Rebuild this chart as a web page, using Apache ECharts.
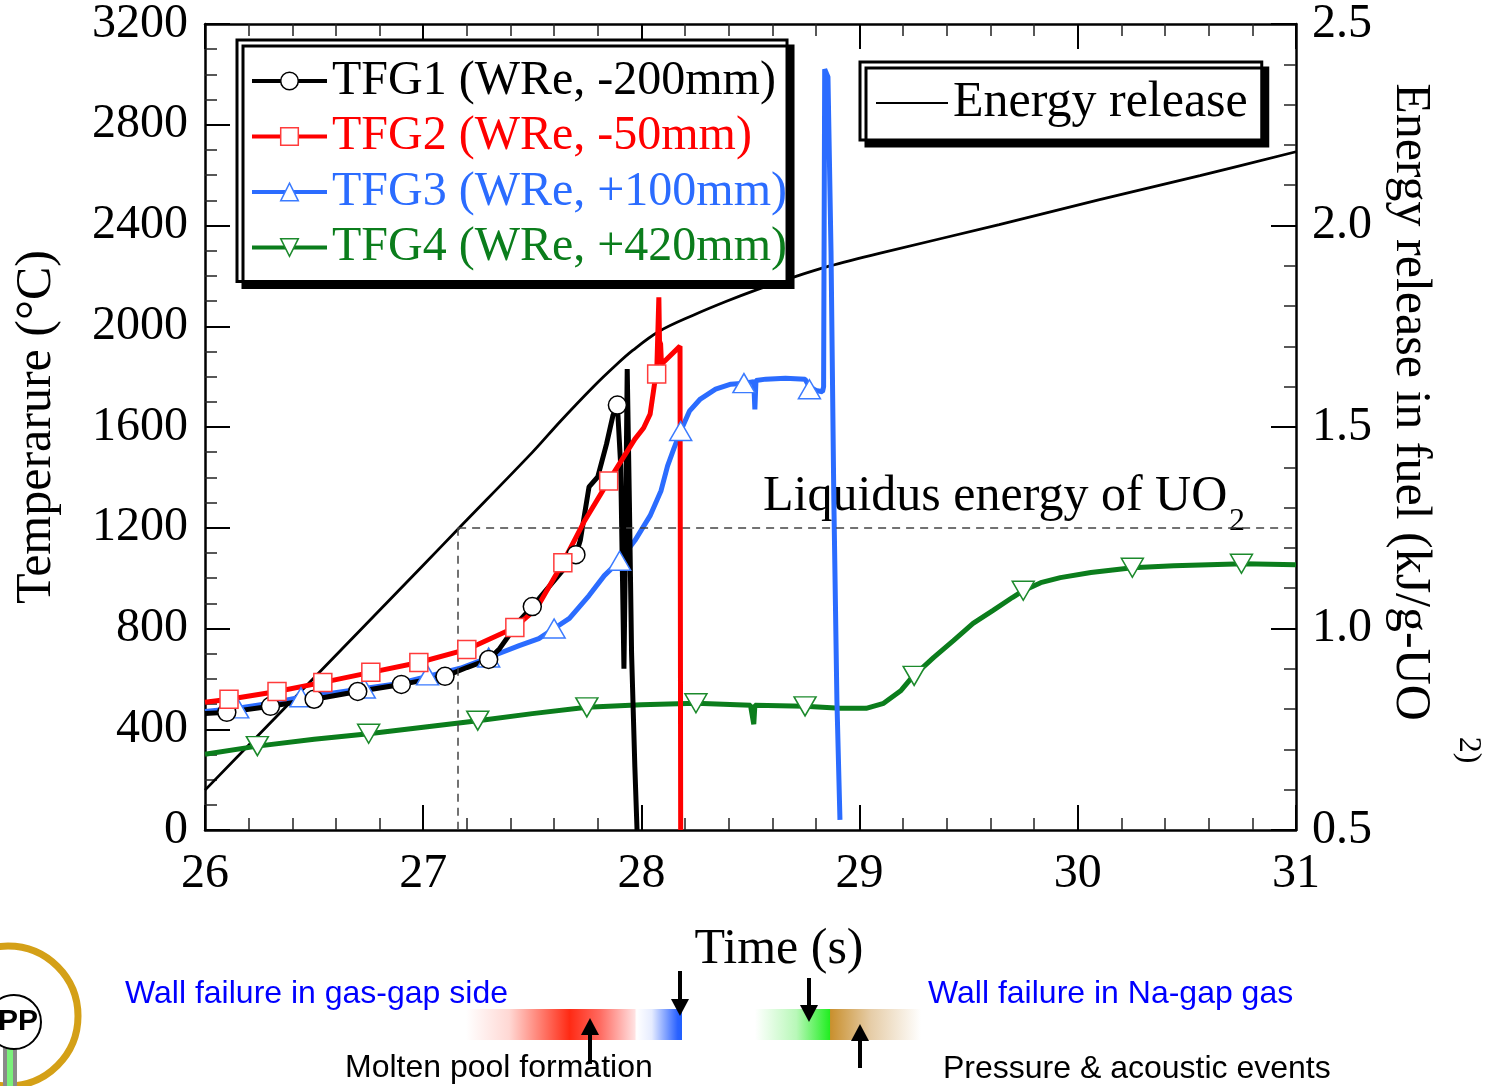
<!DOCTYPE html>
<html><head><meta charset="utf-8">
<script src="https://cdn.jsdelivr.net/npm/echarts@6/dist/echarts.min.js"></script>
<style>html,body{margin:0;padding:0;background:#fff}#c{width:1510px;height:1086px}</style>
</head><body><div id="c"></div>
<script>
// ---------- tick labels ----------
const timeTicks = [26, 27, 28, 29, 30, 31];
const tempTicks = [0, 400, 800, 1200, 1600, 2000, 2400, 2800, 3200];
const energyTicks = [0.5, 1.0, 1.5, 2.0, 2.5];

// ---------- series names ----------
const seriesNames = ['TFG1 (WRe, -200mm)', 'TFG2 (WRe, -50mm)', 'TFG3 (WRe, +100mm)', 'TFG4 (WRe, +420mm)'];
const energyName = 'Energy release';

// ---------- data: [time (s), temperature (°C)] ----------
const tfg1 = [[26.00,463],[26.10,467],[26.30,491],[26.50,519],[26.70,550],[26.90,578],[27.10,610],[27.20,645],[27.30,677],
  [27.35,720],[27.44,830],[27.50,887],[27.60,990],[27.70,1093],[27.72,1150],[27.76,1362],[27.80,1402],[27.84,1532],
  [27.87,1647],[27.89,1687],[27.905,1450],[27.92,640],[27.925,980],[27.935,1830],[27.945,1300],[27.955,700],[27.97,250],[27.98,0]];
const tfg1Markers = [[26.1,467],[26.3,491],[26.5,519],[26.7,550],[26.9,578],[27.1,610],[27.3,677],[27.5,887],[27.7,1093],[27.89,1687]];

const tfg2 = [[26.00,507],[26.11,519],[26.33,550],[26.54,586],[26.76,626],[26.98,665],[27.20,717],[27.42,804],[27.52,880],
  [27.64,1061],[27.74,1228],[27.85,1386],[27.97,1552],[28.01,1596],[28.04,1651],[28.06,1770],[28.07,1810],[28.08,2115],
  [28.083,1940],[28.088,1930],[28.092,1849],[28.177,1921],[28.18,0]];
const tfg2Markers = [[26.11,519],[26.33,550],[26.54,586],[26.76,626],[26.98,665],[27.20,717],[27.42,804],[27.64,1061],[27.85,1386],[28.07,1810]];

const tfg3 = [[26.00,471],[26.15,483],[26.30,503],[26.44,527],[26.58,543],[26.73,562],[26.89,582],[27.02,610],[27.17,642],
  [27.30,685],[27.44,732],[27.53,760],[27.60,800],[27.67,840],[27.76,931],[27.83,1010],[27.90,1069],[27.97,1149],[28.04,1248],
  [28.09,1347],[28.12,1446],[28.15,1517],[28.18,1584],[28.22,1663],[28.27,1711],[28.34,1750],[28.41,1770],[28.47,1774],
  [28.515,1780],[28.52,1670],[28.525,1785],[28.57,1790],[28.66,1794],[28.75,1790],[28.77,1760],[28.80,1745],[28.83,1740],
  [28.835,1760],[28.84,3020],[28.855,2990],[28.869,2297],[28.882,1307],[28.896,515],[28.91,40]];
const tfg3Markers = [[26.15,483],[26.44,527],[26.73,562],[27.02,614],[27.30,685],[27.60,800],[27.90,1069],[28.18,1584],[28.47,1774],[28.77,1750]];

const tfg4 = [[26.00,301],[26.24,333],[26.50,360],[26.75,382],[27.00,408],[27.25,434],[27.50,462],[27.75,487],[28.00,497],
  [28.25,503],[28.50,495],[28.515,420],[28.52,495],[28.75,491],[28.91,483],[29.03,483],[29.11,503],[29.19,554],[29.24,606],
  [29.34,685],[29.43,752],[29.52,820],[29.61,871],[29.70,923],[29.75,950],[29.83,982],[29.92,1002],[30.06,1022],[30.25,1041],
  [30.44,1049],[30.76,1057],[31.00,1053]];
const tfg4Markers = [[26.24,333],[26.75,382],[27.25,434],[27.75,487],[28.25,503],[28.75,491],[29.25,612],[29.75,950],[30.25,1041],[30.75,1057]];

// ---------- data: [time (s), energy (kJ/g-UO2)] ----------
const energyRelease = [[26.00,0.599],[26.50,0.878],[27.00,1.157],[27.16,1.247],[27.50,1.437],[27.63,1.515],[27.78,1.600],
  [27.88,1.652],[27.96,1.690],[28.08,1.737],[28.24,1.778],[28.39,1.812],[28.53,1.841],[28.67,1.867],[28.86,1.899],
  [29.09,1.931],[29.64,2.002],[30.10,2.064],[30.56,2.124],[31.00,2.183]];

// liquidus energy of UO2 and the time it is reached
const liquidusEnergy = 1.25;
const liquidusTime = 27.16;

// ---------- styling ----------
const SERIF = 'Liberation Serif';
const SANS = 'Liberation Sans';
const lineColors = ['#000000', '#ff0000', '#2b6cff', '#0b7d1c'];
const markColors = ['#000000', '#ff3b3b', '#3b7bff', '#1c8a2c'];
const symbols = ['circle', 'rect', 'triangle', 'path://M0,0L20,0L10,17Z'];
const symbolSizes = [18, 18, [22, 19], [22, 19]];
const curves = [tfg1, tfg2, tfg3, tfg4];
const markers = [tfg1Markers, tfg2Markers, tfg3Markers, tfg4Markers];

const series = [{
  name: energyName, type: 'line', xAxisIndex: 0, yAxisIndex: 1, data: energyRelease, smooth: 0.35,
  symbol: 'none', showSymbol: false, lineStyle: { color: '#000', width: 2.8 }, itemStyle: { color: '#000' }, z: 2,
  markLine: {
    silent: true, symbol: ['none', 'none'], label: { show: false }, animation: false,
    lineStyle: { type: [8, 6], color: '#444', width: 1.5 },
    emphasis: { disabled: true },
    data: [
      [{ coord: [liquidusTime, liquidusEnergy] }, { coord: [timeTicks[timeTicks.length - 1], liquidusEnergy] }],
      [{ coord: [liquidusTime, liquidusEnergy] }, { coord: [liquidusTime, energyTicks[0]] }]
    ]
  }
}];
const zOrder = [4, 5, 3, 2];
curves.forEach((c, i) => {
  series.push({
    name: seriesNames[i], type: 'line', xAxisIndex: 0, yAxisIndex: 0, data: c,
    symbol: symbols[i], showSymbol: false, lineStyle: { color: lineColors[i], width: 5 },
    itemStyle: { color: lineColors[i] }, z: zOrder[i]
  });
});
markers.forEach((m, i) => {
  series.push({
    name: seriesNames[i] + ' markers', type: 'scatter', xAxisIndex: 0, yAxisIndex: 0, data: m,
    symbol: symbols[i], symbolSize: symbolSizes[i],
    itemStyle: { color: '#fff', borderColor: markColors[i], borderWidth: 1.5, opacity: 1 }, z: 10 + zOrder[i]
  });
});

const tickStyle = { color: '#000', width: 2 };
const minorStyle = { color: '#222', width: 1.5 };
function xAxisCfg(pos, labels) {
  return {
    type: 'value', position: pos, min: timeTicks[0], max: timeTicks[timeTicks.length - 1],
    interval: timeTicks[1] - timeTicks[0],
    axisLine: { show: true, onZero: false, lineStyle: { color: '#000', width: 2.5 } },
    axisTick: { show: true, inside: true, length: 25, lineStyle: tickStyle },
    minorTick: { show: true, splitNumber: 5, length: 12, lineStyle: minorStyle },
    splitLine: { show: false }, minorSplitLine: { show: false },
    axisLabel: { show: labels, fontFamily: SERIF, fontSize: 48, color: '#000', margin: 20, formatter: v => String(v) }
  };
}

const legendTextColors = ['#000000', '#ff0000', '#2b6cff', '#0b7d1c'];

const option = {
  animation: false,
  backgroundColor: '#fff',
  grid: { left: 205, top: 22, width: 1091, height: 808, containLabel: false },
  xAxis: [xAxisCfg('bottom', true), xAxisCfg('top', false)],
  yAxis: [{
    type: 'value', position: 'left', min: tempTicks[0], max: tempTicks[tempTicks.length - 1],
    interval: tempTicks[1] - tempTicks[0],
    axisLine: { show: true, onZero: false, lineStyle: { color: '#000', width: 2.5 } },
    axisTick: { show: true, inside: true, length: 25, lineStyle: tickStyle },
    minorTick: { show: true, splitNumber: 4, length: 12, lineStyle: minorStyle },
    splitLine: { show: false },
    axisLabel: { fontFamily: SERIF, fontSize: 48, color: '#000', margin: 17, formatter: v => String(v) }
  }, {
    type: 'value', position: 'right', min: energyTicks[0], max: energyTicks[energyTicks.length - 1],
    interval: energyTicks[1] - energyTicks[0],
    axisLine: { show: true, onZero: false, lineStyle: { color: '#000', width: 2.5 } },
    axisTick: { show: true, inside: true, length: 25, lineStyle: tickStyle },
    minorTick: { show: true, splitNumber: 5, length: 12, lineStyle: minorStyle },
    splitLine: { show: false },
    axisLabel: { fontFamily: SERIF, fontSize: 48, color: '#000', margin: 16, formatter: v => v.toFixed(1) }
  }],
  legend: [{
    orient: 'vertical', left: 237, top: 40, padding: [17, 0, 10, 13], itemGap: 7.5,
    itemWidth: 75, itemHeight: 22, selectedMode: false,
    backgroundColor: '#fff', borderColor: '#000', borderWidth: 3, borderRadius: 0,
    shadowColor: '#000', shadowOffsetX: 6, shadowOffsetY: 6, shadowBlur: 0,
    lineStyle: { width: 4 },
    textStyle: { fontFamily: SERIF, fontSize: 48, color: '#000' },
    data: seriesNames.map((n, i) => ({
      name: n, textStyle: { color: legendTextColors[i] },
      itemStyle: { color: '#fff', borderColor: markColors[i], borderWidth: 1.5 }
    }))
  }, {
    orient: 'vertical', left: 860, top: 62, padding: [16, 14, 12, 16],
    itemWidth: 72, itemHeight: 2, icon: 'rect', selectedMode: false,
    backgroundColor: '#fff', borderColor: '#000', borderWidth: 3, borderRadius: 0,
    shadowColor: '#000', shadowOffsetX: 6, shadowOffsetY: 6, shadowBlur: 0,
    textStyle: { fontFamily: SERIF, fontSize: 50, color: '#000' },
    itemStyle: { color: '#000' },
    data: [energyName]
  }],
  graphic: [
    // annotation of liquidus energy
    { type: 'text', x: 763, y: 497, style: { text: 'Liquidus energy of UO', fontFamily: SERIF, fontSize: 50, fill: '#000', align: 'left', verticalAlign: 'middle', textAlign: 'left', textVerticalAlign: 'middle' } },
    { type: 'text', x: 1229, y: 522, style: { text: '2', fontFamily: SERIF, fontSize: 32, fill: '#000', align: 'left', verticalAlign: 'middle', textAlign: 'left', textVerticalAlign: 'middle' } },
    // axis titles
    { type: 'text', x: 779, y: 950, style: { text: 'Time (s)', fontFamily: SERIF, fontSize: 50, fill: '#000', align: 'center', verticalAlign: 'middle', textAlign: 'center', textVerticalAlign: 'middle' } },
    { type: 'text', x: 37, y: 427, rotation: Math.PI / 2, style: { text: 'Temperarure (°C)', fontFamily: SERIF, fontSize: 50, fill: '#000', align: 'center', verticalAlign: 'middle', textAlign: 'center', textVerticalAlign: 'middle' } },
    { type: 'text', x: 1410, y: 402, rotation: -Math.PI / 2, style: { text: 'Energy release in fuel (kJ/g-UO', fontFamily: SERIF, fontSize: 50, fill: '#000', align: 'center', verticalAlign: 'middle', textAlign: 'center', textVerticalAlign: 'middle' } },
    { type: 'text', x: 1468, y: 750, rotation: -Math.PI / 2, style: { text: '2)', fontFamily: SERIF, fontSize: 32, fill: '#000', align: 'center', verticalAlign: 'middle', textAlign: 'center', textVerticalAlign: 'middle' } },
    // bottom event annotations
    { type: 'text', x: 125, y: 994, style: { text: 'Wall failure in gas-gap side', fontFamily: SANS, fontSize: 32, fill: '#0000ff', align: 'left', verticalAlign: 'middle', textAlign: 'left', textVerticalAlign: 'middle' } },
    { type: 'text', x: 345, y: 1068, style: { text: 'Molten pool formation', fontFamily: SANS, fontSize: 32, fill: '#000', align: 'left', verticalAlign: 'middle', textAlign: 'left', textVerticalAlign: 'middle' } },
    { type: 'text', x: 928, y: 994, style: { text: 'Wall failure in Na-gap gas', fontFamily: SANS, fontSize: 32, fill: '#0000ff', align: 'left', verticalAlign: 'middle', textAlign: 'left', textVerticalAlign: 'middle' } },
    { type: 'text', x: 943, y: 1069, style: { text: 'Pressure & acoustic events', fontFamily: SANS, fontSize: 32, fill: '#000', align: 'left', verticalAlign: 'middle', textAlign: 'left', textVerticalAlign: 'middle' } },
    { type: 'rect', shape: { x: 466, y: 1009, width: 216, height: 31 }, style: { fill: { type: 'linear', x: 0, y: 0, x2: 1, y2: 0, colorStops: [
      { offset: 0, color: '#ffffff' }, { offset: 0.2, color: '#ffd8d4' }, { offset: 0.48, color: '#ff2a14' },
      { offset: 0.62, color: '#ff6a60' }, { offset: 0.78, color: '#ffe0e0' }, { offset: 0.79, color: '#ffffff' },
      { offset: 0.86, color: '#e6ecff' }, { offset: 0.98, color: '#2a62ff' }, { offset: 1, color: '#2060ff' } ] } } },
    { type: 'rect', shape: { x: 755, y: 1009, width: 166, height: 31 }, style: { fill: { type: 'linear', x: 0, y: 0, x2: 1, y2: 0, colorStops: [
      { offset: 0, color: '#ffffff' }, { offset: 0.25, color: '#b8f8b8' }, { offset: 0.45, color: '#22ee22' },
      { offset: 0.455, color: '#c9902e' }, { offset: 0.7, color: '#e6cda8' }, { offset: 1, color: '#ffffff' } ] } } },
    { type: 'line', shape: { x1: 680, y1: 971, x2: 680, y2: 1002 }, style: { stroke: '#000', lineWidth: 4 } },
    { type: 'polygon', shape: { points: [[671, 999], [689, 999], [680, 1016]] }, style: { fill: '#000' } },
    { type: 'line', shape: { x1: 590, y1: 1032, x2: 590, y2: 1064 }, style: { stroke: '#000', lineWidth: 4 } },
    { type: 'polygon', shape: { points: [[581, 1035], [599, 1035], [590, 1018]] }, style: { fill: '#000' } },
    { type: 'line', shape: { x1: 809, y1: 978, x2: 809, y2: 1008 }, style: { stroke: '#000', lineWidth: 4 } },
    { type: 'polygon', shape: { points: [[800, 1005], [818, 1005], [809, 1022]] }, style: { fill: '#000' } },
    { type: 'line', shape: { x1: 860, y1: 1038, x2: 860, y2: 1068 }, style: { stroke: '#000', lineWidth: 4 } },
    { type: 'polygon', shape: { points: [[851, 1041], [869, 1041], [860, 1024]] }, style: { fill: '#000' } },
    // logo (partially visible)
    { type: 'circle', shape: { cx: 8, cy: 1016, r: 70 }, style: { fill: 'none', stroke: '#d4a017', lineWidth: 7 } },
    { type: 'rect', shape: { x: 3, y: 1046, width: 14, height: 40 }, style: { fill: '#8a8a8a' } },
    { type: 'rect', shape: { x: 7, y: 1046, width: 6, height: 40 }, style: { fill: '#7af07a' } },
    { type: 'circle', shape: { cx: 14, cy: 1022, r: 27 }, style: { fill: '#fff', stroke: '#000', lineWidth: 2 } },
    { type: 'text', x: 38, y: 1022, style: { text: 'PP', fontFamily: SANS, fontWeight: 'bold', fontSize: 30, fill: '#000', align: 'right', verticalAlign: 'middle', textAlign: 'right', textVerticalAlign: 'middle' } }
  ],
  series: series
};
const chart = echarts.init(document.getElementById('c'));
chart.setOption(option);
</script>
</body></html>
